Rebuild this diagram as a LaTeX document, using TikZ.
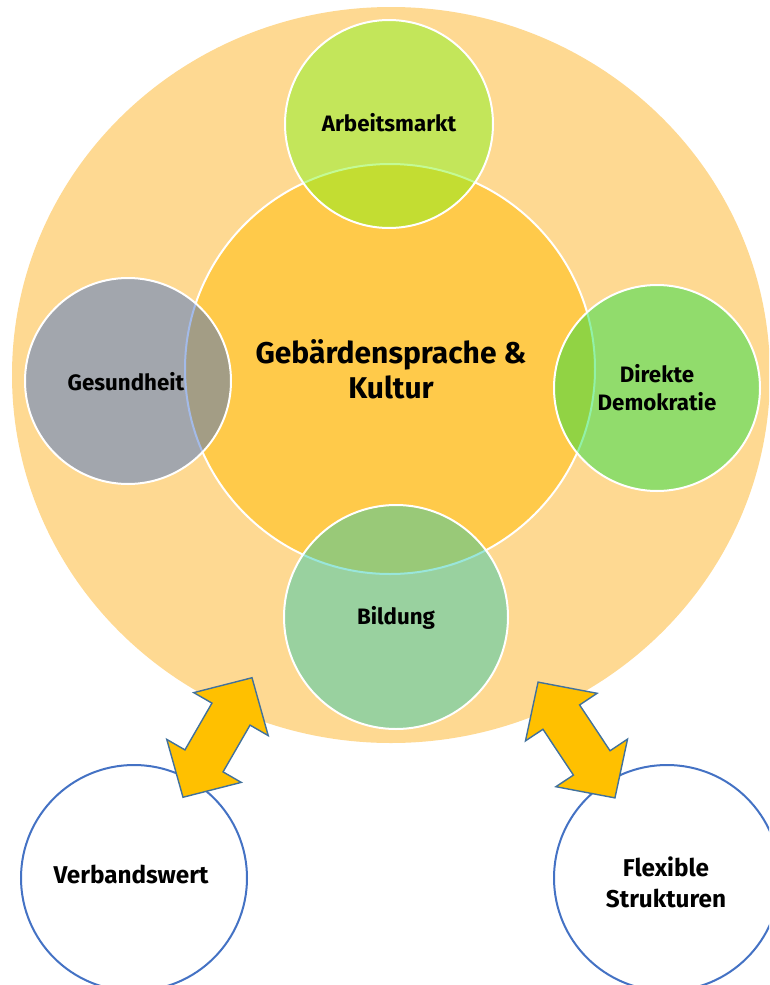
\documentclass[tikz,border=0pt]{standalone}
\usepackage{fontspec}
\setmainfont{Fira Sans}
\definecolor{outerC}{RGB}{254,217,146}
\definecolor{centerC}{RGB}{255,202,74}
\definecolor{amC}{RGB}{124,246,22}
\definecolor{gsC}{RGB}{51,104,206}
\definecolor{ddC}{RGB}{13,224,62}
\definecolor{biC}{RGB}{31,201,177}
\definecolor{botblue}{RGB}{68,114,196}
\definecolor{arrowfill}{RGB}{255,192,0}
\definecolor{arrowline}{RGB}{65,113,156}
\begin{document}
\begin{tikzpicture}[x=1pt,y=-1pt,
  lbl/.style={font=\bfseries\fontsize{22.3}{28}\selectfont, align=center, text=black, inner sep=0pt},
  biglbl/.style={font=\bfseries\fontsize{30}{35}\selectfont, align=center, text=black, inner sep=0pt},
  botlbl/.style={font=\bfseries\fontsize{24.3}{31}\selectfont, align=center, text=black, inner sep=0pt},
  sat/.style={fill opacity=0.45, draw=white, line width=2pt},
  bottomc/.style={draw=botblue, line width=2pt, fill=white},
  dblarrow/.style={fill=arrowfill, draw=arrowline, line width=1.4pt, line join=miter}]
\useasboundingbox (0,0) rectangle (769,985);
\clip (0,0) rectangle (769,985);
% outer and centre
\fill[outerC] (391,375) ellipse [x radius=379, y radius=368];
\filldraw[fill=centerC, draw=white, line width=2pt] (390,369) circle [radius=205];
% satellites
\filldraw[sat, fill=amC] (389,124) circle [radius=104];
\filldraw[sat, fill=gsC] (128,381) circle [radius=103];
\filldraw[sat, fill=ddC] (657,388) circle [radius=103];
\filldraw[sat, fill=biC] (396,617) circle [radius=112];
% bottom circles
\filldraw[bottomc] (134,878) circle [radius=113];
\filldraw[bottomc] (667,878) circle [radius=113];
% labels
\node[lbl] (am) at (389,123) {Arbeitsmarkt};
\node[biglbl] (gk) at (391,369) {Gebärdensprache \&\\Kultur};
\node[lbl] (gs) at (126,382) {Gesundheit};
\node[lbl] (dd) at (657,388) {Direkte\\Demokratie};
\node[lbl] (bi) at (396,618) {Bildung};
\node[botlbl] (vw) at (131,874) {Verbandswert};
\node[botlbl] (fs) at (666,882) {Flexible\\Strukturen};
% double arrows
\begin{scope}[shift={(217.5,737.5)}, rotate=60]
\draw[dblarrow] (69,0) -- (27,43) -- (27,22) -- (-27,22) -- (-27,43) -- (-69,0) -- (-27,-43) -- (-27,-22) -- (27,-22) -- (27,-43) -- cycle;
\end{scope}
\begin{scope}[shift={(576.5,740)}, rotate=123.6]
\draw[dblarrow] (69.5,0) -- (27.5,43) -- (27.5,22) -- (-27.5,22) -- (-27.5,43) -- (-69.5,0) -- (-27.5,-43) -- (-27.5,-22) -- (27.5,-22) -- (27.5,-43) -- cycle;
\end{scope}
\end{tikzpicture}
\end{document}
